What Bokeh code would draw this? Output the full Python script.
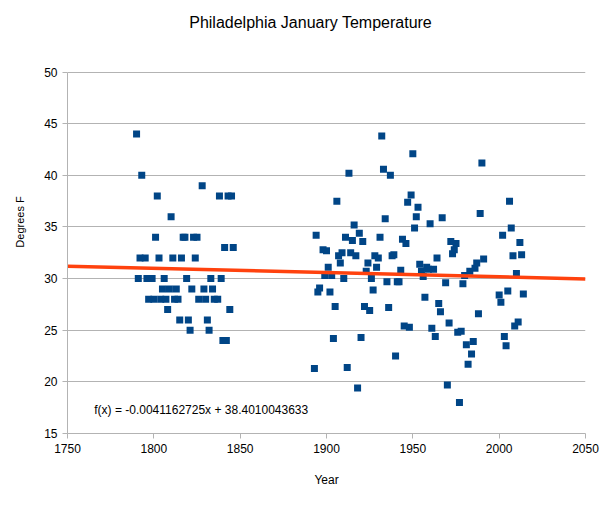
from bokeh.plotting import figure
from bokeh.models import FixedTicker, Label
from bokeh.embed import file_html
from bokeh.resources import INLINE

# January mean temperature, Philadelphia (deg F)
years = [
    1790, 1791, 1792, 1793, 1795, 1796, 1797, 1799,
    1800, 1801, 1802, 1803, 1804, 1805, 1806, 1807, 1808, 1809,
    1810, 1811, 1812, 1813, 1814, 1815, 1816, 1817, 1818, 1819,
    1820, 1821, 1822, 1823, 1824, 1825, 1826, 1828, 1829,
    1830, 1831, 1832, 1833, 1834, 1835, 1837, 1838, 1839,
    1840, 1841, 1842, 1843, 1844, 1845, 1846,
    1893, 1894, 1895, 1896, 1898, 1899,
    1900, 1901, 1902, 1903, 1904, 1905, 1906, 1907, 1908, 1909,
    1910, 1911, 1912, 1913, 1914, 1915, 1916, 1917, 1918, 1919,
    1920, 1921, 1922, 1923, 1924, 1925, 1926, 1927, 1928, 1929,
    1930, 1931, 1932, 1933, 1934, 1935, 1936, 1937, 1938, 1939,
    1940, 1941, 1942, 1943, 1944, 1945, 1946, 1947, 1948, 1949,
    1950, 1951, 1952, 1953, 1954, 1955, 1956, 1957, 1958, 1959,
    1960, 1961, 1962, 1963, 1964, 1965, 1966, 1967, 1969,
    1970, 1971, 1972, 1973, 1974, 1975, 1976, 1977, 1978, 1979,
    1980, 1981, 1982, 1983, 1984, 1985, 1986, 1987, 1988, 1989,
    1990, 1991,
    2000, 2001, 2002, 2003, 2004, 2005, 2006, 2007, 2008, 2009,
    2010, 2011, 2012, 2013, 2014,
]
temps = [
    44, 30, 32, 40, 32, 30, 28, 30,
    28, 34, 38, 32, 28, 29, 30, 28, 27, 29,
    36, 32, 28, 29, 28, 26, 32, 34, 34, 30,
    26, 25, 29, 34, 32, 34, 28, 39, 29,
    28, 26, 25, 30, 29, 28, 28, 38, 30,
    24, 33, 24, 38, 27, 38, 33,
    21.3, 34.2, 28.7, 29.1, 32.8, 30.3,
    32.7, 31.1, 28.7, 30.3, 24.2, 27.3, 37.5, 32.2, 31.5, 32.5,
    30.0, 34.0, 21.4, 40.2, 32.5, 33.7, 35.2, 32.2, 19.4, 34.4,
    24.3, 33.6, 27.3, 30.7, 31.5, 26.9, 30.0, 28.9, 32.2, 31.1,
    32.0, 34.0, 43.8, 40.6, 35.8, 29.7, 27.2, 40.0, 32.2, 32.3,
    22.5, 29.7, 29.7, 30.8, 33.8, 25.4, 33.4, 37.4, 25.3, 38.1,
    42.1, 34.9, 36.0, 36.9, 31.4, 30.7, 30.2, 28.2, 31.1, 30.9,
    35.3, 25.2, 30.9, 24.4, 32.0, 27.6, 26.8, 35.9, 29.6,
    19.7, 25.7, 33.6, 32.4, 32.8, 33.4, 24.8, 18.0, 24.9, 29.5,
    30.3, 23.6, 21.7, 30.7, 22.7, 23.9, 31.0, 31.5, 26.6, 36.3,
    41.2, 31.9,
    28.4, 27.7, 34.2, 24.4, 23.5, 28.8, 37.5, 34.9, 32.2, 25.4,
    30.5, 25.8, 33.5, 32.3, 28.5,
]

x_ticks = [1750, 1800, 1850, 1900, 1950, 2000, 2050]
y_ticks = [15, 20, 25, 30, 35, 40, 45, 50]

# linear trend shown on the chart
trend_slope = -0.0041162725
trend_intercept = 38.4010043633
trend_x = [1750, 2050]
trend_y = [trend_slope * x + trend_intercept for x in trend_x]
trend_text = "f(x) = -0.0041162725x + 38.4010043633"
title_text = "Philadelphia January Temperature"

FONT = "Liberation Sans"
GRID = "#b3b3b3"

# the y range extends above 50 so the title can sit inside the frame;
# the visible axis is bounded to 15..50
p = figure(
    width=607, height=506,
    x_range=(1750, 2050), y_range=(15, 55.96),
    output_backend="svg", toolbar_location=None,
    min_border_left=67, min_border_right=22,
    min_border_top=10, min_border_bottom=73,
    background_fill_color="white", border_fill_color="white",
)
p.outline_line_color = None

p.xaxis.ticker = FixedTicker(ticks=x_ticks)
p.yaxis.ticker = FixedTicker(ticks=y_ticks)
p.yaxis.bounds = (15, 50)
p.xaxis.axis_label = "Year"
p.yaxis.axis_label = "Degrees F"

for ax in (p.xaxis, p.yaxis):
    ax.axis_line_color = GRID
    ax.major_tick_line_color = GRID
    ax.major_tick_out = 5
    ax.major_tick_in = 0
    ax.minor_tick_line_color = None
    ax.major_label_text_font = FONT
    ax.major_label_text_font_size = "12px"
    ax.major_label_text_color = "black"
    ax.axis_label_text_font = FONT
    ax.axis_label_text_font_size = "12px"
    ax.axis_label_text_font_style = "normal"
    ax.axis_label_text_color = "black"
    ax.major_label_standoff = 5

p.yaxis.axis_label_text_font_size = "11px"
p.xaxis.axis_label_standoff = 17
p.yaxis.axis_label_standoff = 15

p.xgrid.grid_line_color = None
p.ygrid.grid_line_color = GRID
p.ygrid.grid_line_width = 1

p.scatter(years, temps, marker="square", size=7,
          fill_color="#004586", line_color=None)

p.line(trend_x, trend_y, line_color="#ff420e", line_width=3.5)

p.add_layout(Label(x=1765.5, y=17.3, text=trend_text,
                   text_font=FONT, text_font_size="12px",
                   text_baseline="middle", text_align="left",
                   text_color="black"))

p.add_layout(Label(x=1820.5, y=54.8, text=title_text,
                   text_font=FONT, text_font_size="16px",
                   text_baseline="middle", text_align="left",
                   text_color="black"))

open("out.html", "w").write(file_html(p, INLINE))
